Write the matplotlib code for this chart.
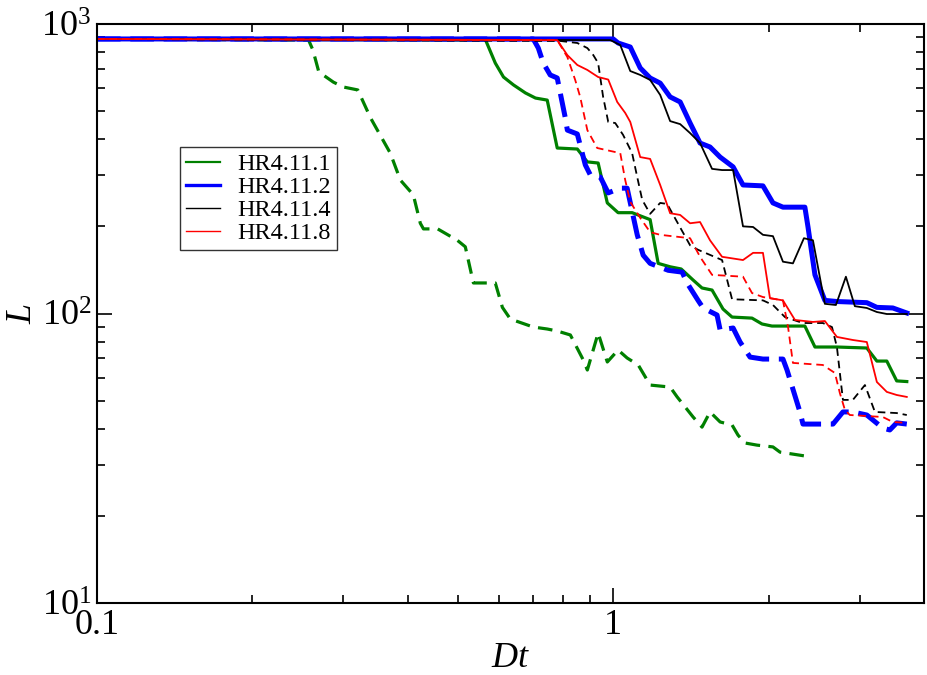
import matplotlib
matplotlib.use("Agg")
import matplotlib.pyplot as plt
from matplotlib.ticker import FixedLocator, FixedFormatter, LogLocator, NullFormatter

plt.rcParams['font.family'] = ['Liberation Serif', 'DejaVu Serif']
plt.rcParams['mathtext.fontset'] = 'custom'
plt.rcParams['mathtext.rm'] = 'Liberation Serif'
plt.rcParams['mathtext.it'] = 'Liberation Serif:italic'
plt.rcParams['lines.scale_dashes'] = False

# ---------------- data ----------------
labels = ["HR4.11.1", "HR4.11.2", "HR4.11.4", "HR4.11.8"]

green_solid_x = [0.1, 0.566, 0.591, 0.613, 0.641, 0.676, 0.707, 0.745, 0.779, 0.852, 0.891, 0.935, 0.974, 1.022, 1.088, 1.179, 1.222, 1.289, 1.354, 1.428, 1.486, 1.554, 1.632, 1.699, 1.857, 1.942, 2.030, 2.351, 2.459, 2.712, 3.099, 3.241, 3.388, 3.541, 3.704]
green_solid_y = [888, 880, 733, 656, 616, 578, 555, 546, 373, 370, 334, 331, 241, 223, 223, 211, 149, 145, 142.5, 130.5, 122.5, 120.5, 103.6, 97.2, 96.4, 92, 90.5, 90.5, 76.6, 76.6, 76, 68.5, 68.5, 58.5, 58.2]

green_dash_x = [0.1, 0.257, 0.262, 0.269, 0.287, 0.300, 0.320, 0.339, 0.370, 0.387, 0.410, 0.423, 0.429, 0.457, 0.499, 0.517, 0.536, 0.591, 0.610, 0.632, 0.700, 0.745, 0.779, 0.826, 0.875, 0.891, 0.935, 0.974, 1.022, 1.064, 1.118, 1.179, 1.289, 1.330, 1.428, 1.486, 1.540, 1.611, 1.699, 1.745, 1.800, 1.899, 2.039, 2.104, 2.351]
green_dash_y = [888, 880, 813, 683, 630, 606, 592, 473, 358, 289, 257, 205, 196, 196, 179, 170, 127.5, 127.5, 105, 95.7, 89.8, 88.4, 87, 84.3, 69.1, 63.8, 85.6, 68, 74.8, 70.2, 66.4, 56.6, 55.7, 51.5, 43.9, 40.5, 45.7, 42.2, 41.2, 38.0, 35.7, 35.1, 34.6, 33.2, 32.2]

blue_solid_x = [0.1, 1.0, 1.022, 1.079, 1.128, 1.179, 1.233, 1.289, 1.348, 1.409, 1.473, 1.540, 1.611, 1.707, 1.784, 1.950, 2.039, 2.132, 2.351, 2.384, 2.459, 2.570, 2.712, 3.099, 3.241, 3.480, 3.704]
blue_solid_y = [888, 888, 860, 833, 705, 651, 625, 560, 538, 455, 388, 376, 347, 321, 278, 276, 241, 233, 233, 199, 136, 111, 110, 109, 105, 104.5, 100.4]

blue_dash_x = [0.1, 0.700, 0.716, 0.732, 0.755, 0.779, 0.807, 0.815, 0.852, 0.883, 0.903, 0.944, 0.978, 1.032, 1.064, 1.113, 1.143, 1.179, 1.278, 1.360, 1.390, 1.460, 1.493, 1.589, 1.611, 1.707, 1.761, 1.841, 1.950, 2.132, 2.171, 2.300, 2.331, 2.665, 2.786, 2.912, 3.099, 3.328, 3.434, 3.541, 3.704]
blue_dash_y = [888, 888, 826, 733, 667, 651, 477, 430, 417, 326, 301, 296, 261, 271, 271, 187, 159, 149, 141, 139, 127.5, 111, 104.5, 98.8, 87.7, 89.1, 79.7, 70.7, 69.6, 69.6, 63.8, 45.7, 41.5, 41.5, 45.7, 45.7, 44.6, 40.2, 39.6, 41.9, 41.5]

black_solid_x = [0.1, 0.987, 1.032, 1.079, 1.128, 1.179, 1.233, 1.289, 1.348, 1.409, 1.473, 1.554, 1.625, 1.707, 1.784, 1.866, 1.950, 2.039, 2.132, 2.229, 2.341, 2.437, 2.570, 2.700, 2.823, 2.938, 3.099, 3.241, 3.388, 3.704]
black_solid_y = [888, 880, 846, 688, 667, 641, 569, 462, 451, 420, 388, 316, 313, 313, 200, 199, 187, 185, 151, 149, 182, 179, 108, 107, 134, 106, 104.5, 101.2, 99.6, 99.6]

black_dash_x = [0.1, 0.790, 0.852, 0.891, 0.915, 0.935, 0.956, 0.978, 1.009, 1.045, 1.088, 1.113, 1.138, 1.179, 1.233, 1.272, 1.330, 1.409, 1.460, 1.625, 1.699, 1.950, 2.039, 2.151, 2.331, 2.547, 2.653, 2.712, 2.786, 2.912, 3.073, 3.213, 3.541, 3.704]
black_dash_y = [888, 874, 860, 826, 781, 733, 560, 459, 455, 414, 358, 296, 247, 221, 241, 239, 207, 172, 166, 153, 112, 111, 107, 97.2, 92.7, 92.7, 89.8, 76.6, 50.3, 50.3, 56.6, 45.7, 45.3, 44.6]

red_solid_x = [0.1, 0.779, 0.815, 0.852, 0.891, 0.935, 0.978, 1.018, 1.055, 1.079, 1.128, 1.179, 1.233, 1.289, 1.348, 1.409, 1.473, 1.540, 1.625, 1.784, 1.866, 1.950, 2.012, 2.132, 2.249, 2.437, 2.570, 2.712, 2.912, 3.099, 3.241, 3.388, 3.541, 3.704]
red_solid_y = [888, 880, 781, 722, 694, 656, 643, 538, 493, 459, 347, 342, 278, 222, 219, 205, 207, 179, 157, 153, 162, 162, 113, 111, 95, 93.5, 94.2, 83, 81, 79.7, 58, 53.6, 52.3, 51.5]

red_dash_x = [0.1, 0.779, 0.815, 0.844, 0.863, 0.891, 0.931, 1.032, 1.055, 1.079, 1.128, 1.179, 1.233, 1.409, 1.473, 1.554, 1.784, 1.857, 1.950, 2.132, 2.181, 2.229, 2.547, 2.688, 2.748, 2.811, 2.873, 3.328, 3.480, 3.704]
red_dash_y = [888, 880, 769, 641, 560, 430, 373, 358, 289, 243, 214, 191, 187, 182, 157, 136, 134, 117.7, 114, 111, 89.8, 67.5, 66.4, 62.3, 53.1, 46.4, 44.6, 43.9, 42.2, 41.9]

x_ticks = [0.1, 1]
x_ticklabels = ["0.1", "1"]

# ---------------- plot ----------------
fig = plt.figure(figsize=(9.27, 6.75), dpi=100)
ax = fig.add_axes([0.1046, 0.1067, 0.8922, 0.8577])

GREEN, BLUE, BLACK, RED = "#008000", "#0000ff", "#000000", "#ff0000"
lw_g, lw_b, lw_k, lw_r = 2.3, 3.6, 1.3, 1.3

ax.plot(green_solid_x, green_solid_y, color=GREEN, lw=lw_g, label=labels[0])
ax.plot(green_dash_x, green_dash_y, color=GREEN, lw=lw_g, dashes=(10.5, 6))
ax.plot(blue_solid_x, blue_solid_y, color=BLUE, lw=lw_b, label=labels[1])
ax.plot(blue_dash_x, blue_dash_y, color=BLUE, lw=lw_b, dashes=(17, 7))
ax.plot(black_solid_x, black_solid_y, color=BLACK, lw=lw_k, label=labels[2])
ax.plot(black_dash_x, black_dash_y, color=BLACK, lw=lw_k, dashes=(5.5, 3.5))
ax.plot(red_solid_x, red_solid_y, color=RED, lw=lw_r, label=labels[3])
ax.plot(red_dash_x, red_dash_y, color=RED, lw=lw_r, dashes=(5.5, 3.5))

ax.set_xscale('log')
ax.set_yscale('log')
ax.set_xlim(0.1, 4.0)
ax.set_ylim(10, 1000)

ax.xaxis.set_major_locator(FixedLocator(x_ticks))
ax.xaxis.set_major_formatter(FixedFormatter(x_ticklabels))
ax.xaxis.set_minor_locator(LogLocator(base=10, subs=range(2, 10), numticks=20))
ax.xaxis.set_minor_formatter(NullFormatter())
ax.yaxis.set_minor_locator(LogLocator(base=10, subs=range(2, 10), numticks=20))
ax.yaxis.set_minor_formatter(NullFormatter())

ax.tick_params(which='both', direction='in', top=True, right=True, width=1.2, colors='black')
ax.tick_params(which='major', length=11, labelsize=26, pad=4)
ax.tick_params(which='minor', length=6)
for s in ax.spines.values():
    s.set_linewidth(1.5)

ax.set_xlabel(r"$Dt$", fontsize=26, labelpad=0)
ax.set_ylabel(r"$L$", fontsize=26, labelpad=2)

leg = ax.legend(loc='upper left', bbox_to_anchor=(180/927, 1-147/675), bbox_transform=fig.transFigure,
                fontsize=17.5, frameon=True, fancybox=False, shadow=False, borderaxespad=0,
                handlelength=1.4, handletextpad=0.7, labelspacing=0.04, borderpad=0.25)
leg.get_frame().set_edgecolor('black')
leg.get_frame().set_linewidth(1.0)
for h, w in zip(leg.get_lines(), [1.6, 2.4, 1.0, 1.0]):
    h.set_linewidth(w)

fig.savefig("out.png", dpi=100)
